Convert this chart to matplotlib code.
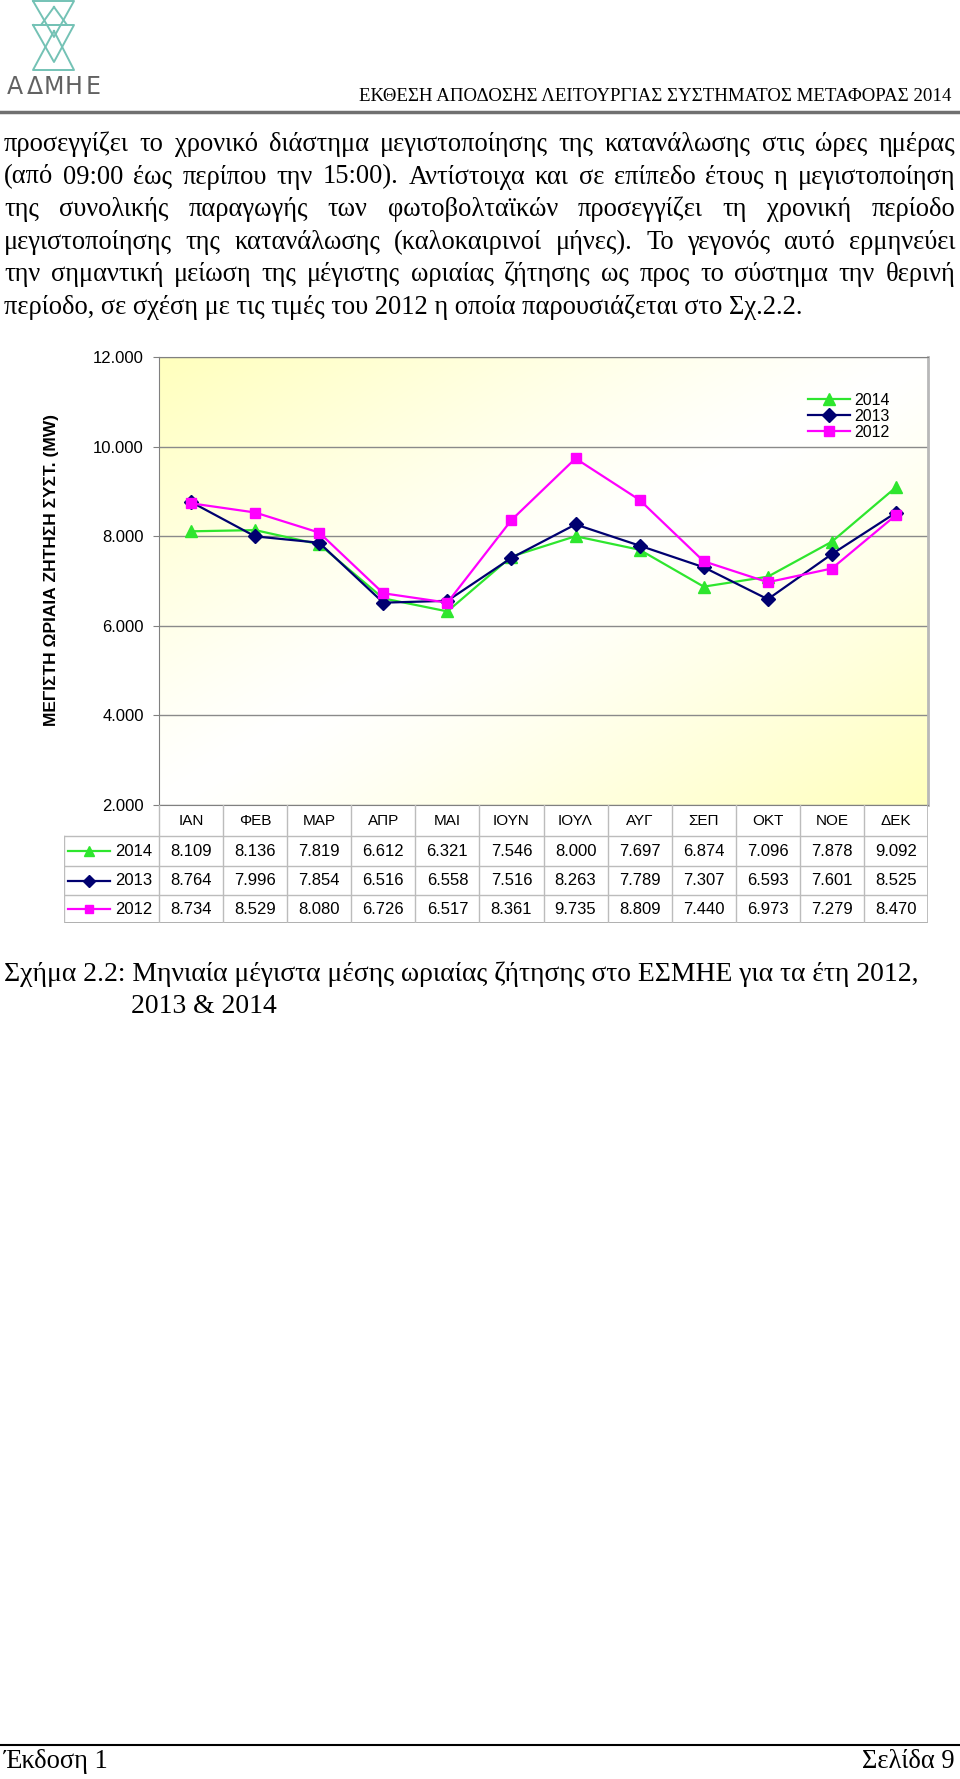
import numpy as np
import matplotlib
matplotlib.use('Agg')
from matplotlib import pyplot
from matplotlib.ticker import FuncFormatter

W, H = 960, 1779

months = ['ΙΑΝ', 'ΦΕΒ', 'ΜΑΡ', 'ΑΠΡ', 'ΜΑΙ', 'ΙΟΥΝ', 'ΙΟΥΛ', 'ΑΥΓ', 'ΣΕΠ', 'ΟΚΤ', 'ΝΟΕ', 'ΔΕΚ']
years = ['2014', '2013', '2012']
demand_2014 = [8109, 8136, 7819, 6612, 6321, 7546, 8000, 7697, 6874, 7096, 7878, 9092]
demand_2013 = [8764, 7996, 7854, 6516, 6558, 7516, 8263, 7789, 7307, 6593, 7601, 8525]
demand_2012 = [8734, 8529, 8080, 6726, 6517, 8361, 9735, 8809, 7440, 6973, 7279, 8470]
y_ticks = [2000, 4000, 6000, 8000, 10000, 12000]
y_label = 'ΜΕΓΙΣΤΗ ΩΡΙΑΙΑ ΖΗΤΗΣΗ ΣΥΣΤ. (MW)'

header_title = 'ΕΚΘΕΣΗ ΑΠΟΔΟΣΗΣ ΛΕΙΤΟΥΡΓΙΑΣ ΣΥΣΤΗΜΑΤΟΣ ΜΕΤΑΦΟΡΑΣ 2014'
body_lines = [
    'προσεγγίζει το χρονικό διάστημα μεγιστοποίησης της κατανάλωσης στις ώρες ημέρας',
    '(από 09:00 έως περίπου την 15:00). Αντίστοιχα και σε επίπεδο έτους η μεγιστοποίηση',
    'της συνολικής παραγωγής των φωτοβολταϊκών προσεγγίζει τη χρονική περίοδο',
    'μεγιστοποίησης της κατανάλωσης (καλοκαιρινοί μήνες). Το γεγονός αυτό ερμηνεύει',
    'την σημαντική μείωση της μέγιστης ωριαίας ζήτησης ως προς το σύστημα την θερινή',
    'περίοδο, σε σχέση με τις τιμές του 2012 η οποία παρουσιάζεται στο Σχ.2.2.',
]
caption_lines = [
    'Σχήμα 2.2: Μηνιαία μέγιστα μέσης ωριαίας ζήτησης στο ΕΣΜΗΕ για τα έτη 2012,',
    '2013 & 2014',
]
footer_left = 'Έκδοση 1'
footer_right = 'Σελίδα 9'

styles = {
    '2014': {'color': '#2ee62e', 'marker': '^', 'markersize': 8.5},
    '2013': {'color': '#000070', 'marker': 'D', 'markersize': 7},
    '2012': {'color': '#ff00ff', 'marker': 's', 'markersize': 7},
}
SERIF = 'Liberation Serif'
SANS = 'Liberation Sans'


def greek_number(v, pos=None):
    return f'{int(v):,}'.replace(',', '.')


fig = pyplot.figure(figsize=(W / 100, H / 100), dpi=100)
renderer = fig.canvas.get_renderer()

# page layer in pixel coordinates
page = fig.add_axes([0, 0, 1, 1])
page.set_xlim(0, W)
page.set_ylim(H, 0)
page.axis('off')


def width_of(t):
    return t.get_window_extent(renderer).width


def fit(t, width):
    t.set_fontsize(t.get_fontsize() * width / width_of(t))
    return t


# header: logo, title, rule
logo_color = '#74c2b5'
for tri in [[(33, 1), (74, 1), (54, 37)], [(54, 7), (41, 25), (67, 25)],
            [(33, 25), (74, 25), (54, 62)], [(54, 31), (33, 70), (74, 70)]]:
    xs, ys = zip(*(tri + [tri[0]]))
    page.plot(xs, ys, color=logo_color, lw=1.4)
for i, ch in enumerate('ΑΔΜΗΕ'):
    page.text(15 + i * 19.5, 87, ch, fontsize=17, color='#626262', family='DejaVu Sans',
              ha='center', va='center')
title = page.text(951, 101, header_title, fontsize=12, family=SERIF, ha='right', va='baseline')
fit(title, 588)
page.plot([0, W], [112, 112], color='#707070', lw=2.5)

# body paragraph, justified
probe = page.text(4, 0, body_lines[-1], fontsize=10, family=SERIF)
body_size = 10 * 739 / width_of(probe) * 1.08
probe.remove()
for k, line in enumerate(body_lines):
    base = 151 + 32.6 * k
    if k == len(body_lines) - 1:
        page.text(4, base, line, fontsize=body_size, family=SERIF, va='baseline')
        continue
    words = line.split(' ')
    texts = [page.text(0, base, w, fontsize=body_size, family=SERIF, va='baseline') for w in words]
    widths = [width_of(t) for t in texts]
    gap = (955 - 4 - sum(widths)) / (len(words) - 1)
    x = 4
    for t, w in zip(texts, widths):
        t.set_x(x)
        x += w + gap

# chart
cw = (928 - 159) / 12
ax = fig.add_axes([159 / W, 1 - 805 / H, (928 - 159) / W, (805 - 357) / H])
x = np.arange(len(months))
ax.set_xlim(-0.5, 11.5)
ax.set_ylim(2000, 12000)

u, v = np.meshgrid(np.linspace(0, 1, 300), np.linspace(0, 1, 300))
g = np.abs(u + v - 1) ** 1.2
bg = np.ones((300, 300, 3))
bg[..., 2] = 1 - 0.26 * g
ax.imshow(bg, extent=[-0.5, 11.5, 2000, 12000], aspect='auto', origin='upper', zorder=0)

ax.set_yticks(y_ticks)
ax.yaxis.set_major_formatter(FuncFormatter(greek_number))
ax.yaxis.grid(True, color='#8a8a8a', lw=1)
ax.set_xticks([])
ax.tick_params(axis='y', length=4, color='#808080', pad=7, labelsize=12)
for lbl in ax.get_yticklabels():
    lbl.set_family(SANS)
for side in ['left', 'top', 'bottom']:
    ax.spines[side].set_color('#808080')
ax.spines['right'].set_color('#b8b8b8')
ax.spines['right'].set_linewidth(2)

for name, values in zip(years, [demand_2014, demand_2013, demand_2012]):
    st = styles[name]
    ax.plot(x, values, color=st['color'], marker=st['marker'], markersize=st['markersize'],
            markeredgecolor=st['color'], lw=1.6, label=name, zorder=3)

ax.legend(loc='upper left', bbox_to_anchor=(808 / W, 1 - 393 / H), bbox_transform=fig.transFigure,
          frameon=False, prop={'family': SANS, 'size': 11.5}, handlelength=2.6,
          handletextpad=0.3, labelspacing=0.05, borderpad=0, borderaxespad=0)

fig.text(52 / W, 1 - 570 / H, y_label, rotation=90, ha='center', va='center',
         fontweight='bold', fontsize=12.5, family=SANS)

# data table under the chart
tab_left = -0.5 - (159 - 64) / cw
tab = fig.add_axes([64 / W, 1 - 923 / H, (928 - 64) / W, (923 - 805) / H])
tab.set_xlim(tab_left, 11.5)
tab.set_ylim(923, 805)
tab.axis('off')
row_edges = [805, 836, 866, 895, 923]
grid_c = '#bcbcbc'
for yy in row_edges[1:-1]:
    tab.plot([tab_left, 11.5], [yy, yy], color=grid_c, lw=1)
tab.plot([tab_left, 11.5], [923, 923], color='#a8a8a8', lw=2)
for i in range(len(months) + 1):
    xb = i - 0.5
    tab.plot([xb, xb], [805, 923], color='#b8b8b8' if i == len(months) else grid_c,
             lw=2 if i == len(months) else 1)
tab.plot([tab_left, tab_left], [836, 923], color=grid_c, lw=1)

for i, m in enumerate(months):
    tab.text(i, (row_edges[0] + row_edges[1]) / 2, m, ha='center', va='center',
             fontsize=11, family=SANS)
for r, (name, values) in enumerate(zip(years, [demand_2014, demand_2013, demand_2012])):
    yc = (row_edges[r + 1] + row_edges[r + 2]) / 2
    st = styles[name]
    for i, val in enumerate(values):
        tab.text(i, yc, greek_number(val), ha='center', va='center', fontsize=12, family=SANS)
    tab.text(-0.5 - 7 / cw, yc, name, ha='right', va='center', fontsize=12, family=SANS)
    tab.plot([-0.5 - 91 / cw, -0.5 - 49 / cw], [yc, yc], color=st['color'], lw=1.6)
    tab.plot([-0.5 - 70 / cw], [yc], color=st['color'], marker=st['marker'],
             markersize=st['markersize'] * 0.85, markeredgecolor=st['color'])

# caption
cap = page.text(4, 981, caption_lines[0], fontsize=body_size, family=SERIF, va='baseline')
fit(cap, 915)
page.text(131, 1013, caption_lines[1], fontsize=cap.get_fontsize(), family=SERIF, va='baseline')

# footer
page.plot([0, W], [1745, 1745], color='black', lw=1.5)
page.text(4, 1768, footer_left, fontsize=body_size, family=SERIF, va='baseline')
page.text(955, 1768, footer_right, fontsize=body_size, family=SERIF, va='baseline', ha='right')

fig.savefig('out.png', dpi=100)
